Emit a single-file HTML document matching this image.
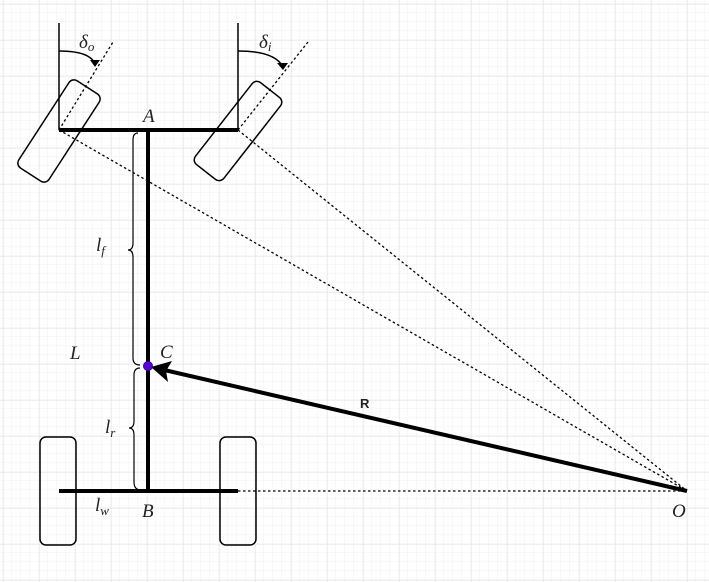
<!DOCTYPE html>
<html><head><style>
html,body{margin:0;padding:0;background:#fff;}
svg{display:block;}
text{font-family:"Liberation Serif",serif;font-style:italic;font-size:19px;fill:#222;}
</style></head><body>
<svg width="709" height="582" viewBox="0 0 709 582" xmlns="http://www.w3.org/2000/svg">
<defs>
<pattern id="gm" x="3" y="4" width="9" height="9" patternUnits="userSpaceOnUse"><path d="M9 0V9M0 9H9" stroke="#f2f2f2" stroke-width="1" fill="none"/></pattern>
<pattern id="gM" x="3" y="4" width="36" height="36" patternUnits="userSpaceOnUse"><path d="M0 0V36M0 0H36" stroke="#e2e2e2" stroke-width="1" fill="none"/></pattern>
</defs>
<rect width="709" height="582" fill="url(#gm)"/>
<rect width="709" height="582" fill="url(#gM)"/>
<g stroke="#000" fill="none">
<path d="M59 130L687 491M238 130L687 491M238 491L687 491" stroke-width="1.3" stroke-dasharray="2.5 2.5"/>
<path d="M59 130L113 42M238 130L308 42" stroke-width="1.3" stroke-dasharray="2.5 2.5"/>
<path d="M59 23V130M238 23V130" stroke-width="1.5"/>
<path d="M59 51Q90 51 95 64M238 51Q275 51 283 67" stroke-width="1.5"/>
<rect x="41" y="79" width="36" height="104" rx="6" transform="rotate(33 59 131)" fill="none" stroke-width="1.5"/>
<rect x="220" y="79" width="36" height="104" rx="6" transform="rotate(38 238 131)" fill="none" stroke-width="1.5"/>
<rect x="40" y="437" width="36" height="108" rx="6" stroke-width="1.5"/>
<rect x="220" y="437" width="36" height="108" rx="6" stroke-width="1.5"/>
<path d="M59 130H238M59 491H238" stroke-width="4"/>
<path d="M148 130V491" stroke-width="4"/>
<path d="M138 133Q133 133 133 140V243Q133 250 128 250Q133 250 133 257V358Q133 365 140 365" stroke-width="1.2"/>
<path d="M140 368Q134 368 134 375V421Q134 428 129 428Q134 428 134 435V482Q134 490 141 490" stroke-width="1.2"/>
<path d="M687 491L160 369" stroke-width="4"/>
</g>
<path d="M151 367L172 361L166 371L168 382Z" fill="#000"/>
<path d="M95 67L90 60L100 60Z M283 70L277 63L288 63Z" fill="#000"/>
<circle cx="148" cy="366" r="4.5" fill="#5a00d8" stroke="#3a00a0"/>
<text x="79" y="48">δ<tspan font-size="13" dy="3">o</tspan></text>
<text x="259" y="48">δ<tspan font-size="13" dy="3">i</tspan></text>
<text x="143" y="122">A</text>
<text x="142" y="517">B</text>
<text x="160" y="358">C</text>
<text x="70" y="359">L</text>
<text x="672" y="517">O</text>
<text x="96" y="251">l<tspan font-size="13" dy="4">f</tspan></text>
<text x="105" y="433">l<tspan font-size="13" dy="4">r</tspan></text>
<text x="95" y="511">l<tspan font-size="13" dy="4">w</tspan></text>
<text x="360" y="408" style="font-family:'Liberation Sans',sans-serif;font-style:normal;font-weight:bold;font-size:13px">R</text>
</svg>
</body></html>
